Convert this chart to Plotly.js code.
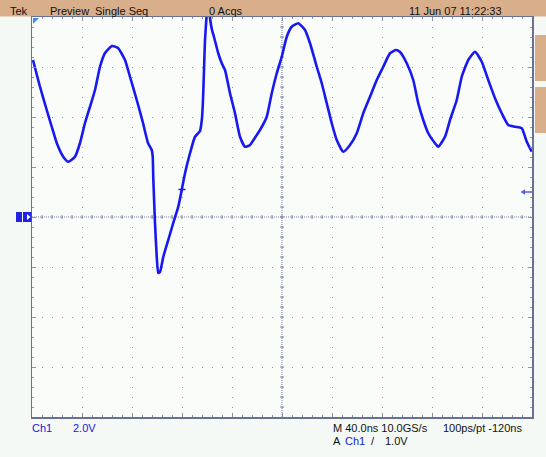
<!DOCTYPE html>
<html>
<head>
<meta charset="utf-8">
<script src="https://cdn.plot.ly/plotly-3.0.1.min.js"></script>
<style>
html,body{margin:0;padding:0;background:#F5F9F5;}
#chart{width:546px;height:457px;}
</style>
</head>
<body>
<div id="chart"></div>
<script>
// Channel 1 waveform (time in ns relative to screen centre, volts)
const time_ns = [-199.2,-193.6,-188.2,-184.2,-180.2,-175.0,-171.0,-165.6,-161.6,-157.6,-153.6,-149.6,-145.6,-141.6,-136.0,-131.2,-125.6,-121.6,-116.2,-111.2,-107.2,-104.2,-103.4,-103.0,-101.6,-100.2,-99.0,-97.6,-95.0,-91.0,-87.0,-83.0,-80.2,-77.6,-73.6,-69.6,-65.6,-64.0,-63.2,-62.4,-61.6,-60.4,-59.2,-57.6,-56.0,-54.4,-51.0,-48.2,-45.6,-41.6,-37.6,-33.6,-29.6,-25.6,-20.2,-17.6,-12.2,-8.2,-4.2,-0.2,3.8,7.8,13.0,18.4,22.4,27.8,31.8,35.8,39.8,43.8,49.0,54.4,59.8,65.0,70.4,75.8,81.0,86.4,91.2,94.4,99.8,105.0,109.0,113.0,117.0,122.4,125.0,130.4,134.4,139.8,143.8,149.0,154.4,159.8,165.0,170.4,175.8,181.0,186.4,191.8,195.8,199.8];
const volts_ch1 = [6.28,5.21,4.28,3.61,2.96,2.41,2.21,2.41,2.96,3.76,4.41,5.08,6.01,6.56,6.84,6.76,6.28,5.61,4.68,3.76,2.96,2.68,2.40,1.60,-0.24,-1.60,-2.24,-2.20,-1.60,-0.92,-0.24,0.41,1.08,1.75,2.55,3.21,3.44,3.96,4.68,5.88,7.08,8.00,8.88,7.96,7.48,7.20,6.55,6.15,5.88,4.95,4.15,3.21,2.81,2.88,3.28,3.48,4.01,4.95,5.75,6.41,7.21,7.61,7.75,7.48,6.95,6.01,5.35,4.55,3.75,3.08,2.61,2.88,3.35,4.15,4.81,5.48,6.01,6.55,6.68,6.60,6.15,5.48,4.55,3.88,3.35,2.95,2.81,3.21,3.88,4.68,5.61,6.28,6.61,6.21,5.48,4.75,4.15,3.68,3.61,3.55,3.01,2.61];

const triggerLevelV = 1.0;
const triggerTimeNs = -80;

const topLabels = ["Tek","Preview","Single Seq","0 Acqs","11 Jun 07 11:22:33"];
const bottomRow1 = ["Ch1","2.0V","M 40.0ns 10.0GS/s","100ps/pt -120ns"];
const bottomRow2 = ["A","Ch1","/","1.0V"];

// pixel -> paper helpers (plot area: x 32..532, y 17..417)
const P = x => (x - 32) / 500;
const Q = y => (417 - y) / 400;

const TAN = '#D9AF8B';
const GRID = '#8a92b4';
const CGRID = '#7a82a6';
const BLUE = '#1616dc';
const TRACE = '#1818f0';

const shapes = [];
// top bar
shapes.push({type:'rect', xref:'paper', yref:'paper', x0:P(0), x1:P(546), y0:Q(16.5), y1:Q(0), fillcolor:TAN, line:{width:0}, layer:'below'});
// right tabs
shapes.push({type:'rect', xref:'paper', yref:'paper', x0:P(535), x1:P(546), y0:Q(81), y1:Q(35), fillcolor:TAN, line:{width:0}});
shapes.push({type:'rect', xref:'paper', yref:'paper', x0:P(535), x1:P(546), y0:Q(133), y1:Q(87), fillcolor:TAN, line:{width:0}});
// centre lines
shapes.push({type:'line', xref:'x', yref:'y', x0:-200, x1:200, y0:0, y1:0, line:{color:CGRID, width:1, dash:'1px,1px'}, layer:'below'});
shapes.push({type:'line', xref:'x', yref:'y', x0:0, x1:0, y0:-8, y1:8, line:{color:CGRID, width:1, dash:'1px,1px'}, layer:'below'});
for (let t = -192; t <= 192; t += 8) {
  shapes.push({type:'line', xref:'x', yref:'y', x0:t, x1:t, ysizemode:'pixel', yanchor:0, y0:-2, y1:2, line:{color:CGRID, width:1}, layer:'below'});
}
for (let v = -7.6; v <= 7.61; v += 0.4) {
  shapes.push({type:'line', xref:'x', yref:'y', y0:v, y1:v, xsizemode:'pixel', xanchor:0, x0:-2, x1:2, line:{color:CGRID, width:1}, layer:'below'});
}
// top-left record marker
shapes.push({type:'path', xref:'paper', yref:'paper', path:`M ${P(33)} ${Q(18)} L ${P(39)} ${Q(18)} L ${P(33)} ${Q(24)} Z`, fillcolor:'#3a8cf0', line:{width:0}});
// ground marker "1"
shapes.push({type:'rect', xref:'paper', yref:'paper', x0:P(16), x1:P(22), y0:Q(222), y1:Q(212), fillcolor:'#2222e0', line:{width:0}});
shapes.push({type:'rect', xref:'paper', yref:'paper', x0:P(23), x1:P(31.5), y0:Q(222), y1:Q(212), fillcolor:'#2222e0', line:{width:0}});
shapes.push({type:'path', xref:'paper', yref:'paper', path:`M ${P(27)} ${Q(214)} L ${P(30.5)} ${Q(217)} L ${P(27)} ${Q(220)} Z`, fillcolor:'#ffffff', line:{width:0}});
// trigger level arrow (right)
shapes.push({type:'path', xref:'paper', yref:'y', path:`M ${P(520.5)} ${triggerLevelV} L ${P(525)} ${triggerLevelV+0.11} L ${P(525)} ${triggerLevelV-0.11} Z`, fillcolor:'#5a5aee', line:{width:0}});
shapes.push({type:'line', xref:'paper', yref:'y', x0:P(524), x1:P(532), y0:triggerLevelV, y1:triggerLevelV, line:{color:'#5a5aee', width:1.5}});
// trigger point mark on trace
shapes.push({type:'line', xref:'x', yref:'y', x0:triggerTimeNs-2.8, x1:triggerTimeNs+2.8, y0:1.1, y1:1.1, line:{color:TRACE, width:1.5}});

const FONT = 'Liberation Sans, Arial, sans-serif';
const ann = (text, x, y, color) => ({text, x:P(x-2), y:Q(y), xref:'paper', yref:'paper', xanchor:'left', yanchor:'middle', showarrow:false, font:{family:FONT, size:11, color}});
const topX = [10.4, 49.8, 94.7, 209.3, 409];
const row1X = [32.4, 72.5, 332.8, 442.5];
const row1C = [BLUE, BLUE, '#111', '#111'];
const row2X = [332.8, 345, 371, 385];
const row2C = ['#111', BLUE, '#111', '#111'];
const annotations = [];
topLabels.forEach((t,i)=>annotations.push(ann(t, topX[i], 11.2, '#111')));
bottomRow1.forEach((t,i)=>annotations.push(ann(t, row1X[i], 428, row1C[i])));
bottomRow2.forEach((t,i)=>annotations.push(ann(t, row2X[i], 440.7, row2C[i])));

const trace = {
  x: time_ns, y: volts_ch1, type:'scatter', mode:'lines',
  line:{color:TRACE, width:2.6, shape:'spline', smoothing:0.5}, hoverinfo:'skip'
};

const axisCommon = {
  showticklabels:false, zeroline:false, fixedrange:true,
  showgrid:true, gridcolor:GRID, gridwidth:1, griddash:'1px,9px',
  ticks:'inside', ticklen:4, tickcolor:GRID, tickwidth:1,
  showline:true, linecolor:'#6a7090', linewidth:1.5, mirror:'allticks'
};

const layout = {
  width:546, height:457,
  margin:{l:32, r:14, t:17, b:40, pad:0},
  paper_bgcolor:'#F5F9F5', plot_bgcolor:'#FAFCFA',
  showlegend:false,
  xaxis:Object.assign({}, axisCommon, {range:[-200,200], dtick:40, tick0:-200,
    minor:{dtick:8, tick0:-200, ticks:'inside', ticklen:2, tickcolor:GRID, showgrid:false}}),
  yaxis:Object.assign({}, axisCommon, {range:[-8,8], dtick:2, tick0:-8,
    minor:{dtick:0.4, tick0:-8, ticks:'inside', ticklen:2, tickcolor:GRID, showgrid:false}}),
  shapes, annotations
};

Plotly.newPlot('chart', [trace], layout, {displayModeBar:false, staticPlot:true});
</script>
</body>
</html>
